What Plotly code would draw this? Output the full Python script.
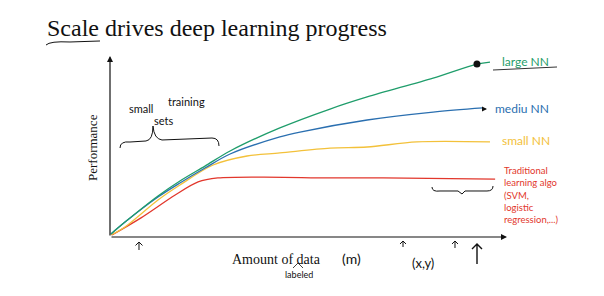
import plotly.graph_objects as go

W, H = 604, 296

# ---- data (amount of data 0-100, performance 0-100) ----
large_x = [0.25, 3.8, 12.15, 17.7, 24.05, 30.4, 43.0, 55.7, 65.1, 81.8, 92.9, 96.2]
large_y = [1.7, 8.3, 22.8, 31.1, 39.4, 47.8, 60.6, 71.1, 77.8, 88.3, 96.1, 97.2]
medium_x = [0.25, 3.8, 12.15, 17.7, 24.05, 30.4, 43.0, 48.1, 65.1, 81.8, 94.4]
medium_y = [1.7, 8.3, 22.2, 30.0, 38.3, 46.1, 55.6, 58.3, 65.0, 69.4, 71.7]
small_x = [0.25, 3.8, 12.15, 17.7, 26.1, 34.7, 43.0, 55.7, 65.1, 77.7, 96.2]
small_y = [1.1, 5.6, 20.6, 28.9, 40.0, 45.0, 46.7, 49.4, 50.0, 52.8, 52.8]
trad_x = [0.5, 7.85, 16.5, 22.3, 27.3, 38.7, 55.7, 69.1, 97.5]
trad_y = [1.1, 10.6, 23.3, 30.6, 32.8, 33.3, 32.8, 32.8, 32.2]
marker_x = [92.9]
marker_y = [96.1]

GREEN = "#1f9d6b"
BLUE = "#2a6fb0"
YELLOW = "#f3c13a"
RED = "#e2372c"
INK = "#111111"


def P(px, py):
    return px / W, 1 - py / H


def path(cmds):
    out = []
    for c, pts in cmds:
        s = c
        for (px, py) in pts:
            x, y = P(px, py)
            s += f" {x:.5f},{y:.5f}"
        out.append(s)
    return " ".join(out)


fig = go.Figure()
for xs, ys, col in [(trad_x, trad_y, RED), (small_x, small_y, YELLOW),
                    (medium_x, medium_y, BLUE), (large_x, large_y, GREEN)]:
    fig.add_trace(go.Scatter(x=xs, y=ys, mode="lines",
                             line=dict(color=col, width=1.3, shape="spline", smoothing=0.9),
                             hoverinfo="skip", showlegend=False))
fig.add_trace(go.Scatter(x=marker_x, y=marker_y, mode="markers",
                         marker=dict(color=INK, size=7), showlegend=False, hoverinfo="skip"))

ann = []


def text(t, px, py, size, color=INK, family="Lato", xanchor="center", angle=0, align="center"):
    x, y = P(px, py)
    ann.append(dict(text=t, x=x, y=y, xref="paper", yref="paper", showarrow=False,
                    xanchor=xanchor, yanchor="middle", textangle=angle, align=align,
                    font=dict(size=size, color=color, family=family)))


def arrow(hx, hy, tx, ty, width=1.0, head=2, size=1.0):
    x, y = P(hx, hy)
    ann.append(dict(text="", x=x, y=y, xref="paper", yref="paper", showarrow=True,
                    ax=tx - hx, ay=ty - hy, arrowhead=head, arrowsize=size,
                    arrowwidth=width, arrowcolor=INK))


SERIF = "Liberation Serif"
text("Scale drives deep learning progress", 45, 28, 24, family=SERIF, xanchor="left")
text("Performance", 92, 148, 13, family=SERIF, angle=-90)
text("Amount of data", 276, 259, 14, family=SERIF)
text("(m)", 351, 258, 14, family="Lato")
text("labeled", 299, 274, 9, family="Lato")
text("(x,y)", 423, 263, 13, family="Lato")
text("large NN", 525, 61, 12, color=GREEN)
text("mediu NN", 522, 108, 12, color=BLUE)
text("small NN", 526, 140, 12, color=YELLOW)
text("Traditional<br>learning algo<br>(SVM,<br>logistic<br>regression,...)", 502, 195, 9.5,
     color=RED, xanchor="left", align="left")
text("small", 141, 108, 11)
text("training", 186, 102, 11)
text("sets", 163, 120, 11)

# axes (arrows)
arrow(110, 56, 110, 237, width=1.2, head=2, size=1)
arrow(507, 237, 110, 237, width=1.2, head=2, size=1)
# blue arrow end
arrow(487, 109, 483, 109, width=1.0)


def open_arrow(x, ytop, ybot, w=3.5, lw=1.0):
    return dict(type="path", xref="paper", yref="paper", line=dict(color=INK, width=lw),
                path=path([("M", [(x, ybot)]), ("L", [(x, ytop)]),
                           ("M", [(x - w, ytop + w)]), ("L", [(x, ytop)]), ("L", [(x + w, ytop + w)])]))


shapes = [
    # underline of "Scale"
    dict(type="path", xref="paper", yref="paper", line=dict(color=INK, width=1),
         path=path([("M", [(46, 45)]), ("Q", [(50, 41), (70, 42)]), ("L", [(100, 41)])])),
    # underline of "large NN"
    dict(type="path", xref="paper", yref="paper", line=dict(color="#333", width=1),
         path=path([("M", [(493, 70)]), ("L", [(557, 67)])])),
    # brace under small training sets
    dict(type="path", xref="paper", yref="paper", line=dict(color=INK, width=1),
         path=path([("M", [(120, 148)]), ("Q", [(120, 141), (130, 142)]), ("L", [(146, 141)]),
                    ("Q", [(153, 140), (153, 126)]), ("Q", [(154, 139), (162, 140)]),
                    ("L", [(212, 138)]), ("Q", [(219, 138), (219, 146)])])),
    # brace under traditional line
    dict(type="path", xref="paper", yref="paper", line=dict(color=INK, width=1),
         path=path([("M", [(432, 187)]), ("Q", [(432, 192), (440, 191)]), ("L", [(458, 191)]),
                    ("L", [(462, 194)]), ("L", [(465, 191)]), ("L", [(487, 191)]),
                    ("Q", [(493, 191), (493, 186)])])),
    # caret above "labeled"
    dict(type="path", xref="paper", yref="paper", line=dict(color=INK, width=0.8),
         path=path([("M", [(293, 268)]), ("L", [(298, 263)]), ("L", [(303, 268)])])),
    open_arrow(139, 242, 250),
    open_arrow(403, 241, 247, w=3),
    open_arrow(455, 241, 248, w=3),
    open_arrow(477, 244, 264, w=5, lw=1.4),
]

fig.update_layout(
    width=W, height=H,
    margin=dict(l=0, r=0, t=0, b=0),
    paper_bgcolor="white", plot_bgcolor="white",
    xaxis=dict(domain=[110 / W, 505 / W], range=[0, 100], visible=False, fixedrange=True),
    yaxis=dict(domain=[(H - 237) / H, (H - 57) / H], range=[0, 100], visible=False, fixedrange=True),
    annotations=ann, shapes=shapes, showlegend=False,
)
fig.write_html("out.html")
